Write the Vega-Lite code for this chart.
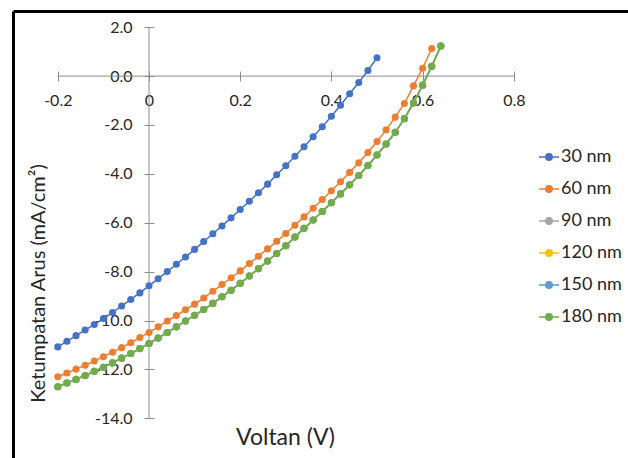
{
 "$schema": "https://vega.github.io/schema/vega-lite/v6.json",
 "width": 615,
 "height": 447,
 "autosize": {"type": "none"},
 "padding": {"left": 13, "top": 11, "right": 0, "bottom": 0},
 "background": "white",
 "config": {"view": {"stroke": null}, "font": "Lato", "axis": {"grid": false}},
 "datasets": {
  "axes": [
   {"x1": -0.2, "x2": 0.8, "y1": 0, "y2": 0},
   {"x1": 0, "x2": 0, "y1": -14, "y2": 2}
  ],
  "curves": [
   {"s":"30 nm","v":-0.2,"j":-11.08},{"s":"30 nm","v":-0.18,"j":-10.85},{"s":"30 nm","v":-0.16,"j":-10.62},{"s":"30 nm","v":-0.14,"j":-10.39},{"s":"30 nm","v":-0.12,"j":-10.16},{"s":"30 nm","v":-0.1,"j":-9.92},{"s":"30 nm","v":-0.08,"j":-9.67},{"s":"30 nm","v":-0.06,"j":-9.41},{"s":"30 nm","v":-0.04,"j":-9.14},{"s":"30 nm","v":-0.02,"j":-8.87},{"s":"30 nm","v":0,"j":-8.58},{"s":"30 nm","v":0.02,"j":-8.29},{"s":"30 nm","v":0.04,"j":-8.0},{"s":"30 nm","v":0.06,"j":-7.7},{"s":"30 nm","v":0.08,"j":-7.4},{"s":"30 nm","v":0.1,"j":-7.09},{"s":"30 nm","v":0.12,"j":-6.77},{"s":"30 nm","v":0.14,"j":-6.45},{"s":"30 nm","v":0.16,"j":-6.13},{"s":"30 nm","v":0.18,"j":-5.8},{"s":"30 nm","v":0.2,"j":-5.46},{"s":"30 nm","v":0.22,"j":-5.12},{"s":"30 nm","v":0.24,"j":-4.77},{"s":"30 nm","v":0.26,"j":-4.42},{"s":"30 nm","v":0.28,"j":-4.04},{"s":"30 nm","v":0.3,"j":-3.67},{"s":"30 nm","v":0.32,"j":-3.28},{"s":"30 nm","v":0.34,"j":-2.89},{"s":"30 nm","v":0.36,"j":-2.48},{"s":"30 nm","v":0.38,"j":-2.07},{"s":"30 nm","v":0.4,"j":-1.64},{"s":"30 nm","v":0.42,"j":-1.19},{"s":"30 nm","v":0.44,"j":-0.72},{"s":"30 nm","v":0.46,"j":-0.26},{"s":"30 nm","v":0.48,"j":0.23},{"s":"30 nm","v":0.5,"j":0.75},
   {"s":"60 nm","v":-0.2,"j":-12.3},{"s":"60 nm","v":-0.18,"j":-12.15},{"s":"60 nm","v":-0.16,"j":-11.99},{"s":"60 nm","v":-0.14,"j":-11.83},{"s":"60 nm","v":-0.12,"j":-11.66},{"s":"60 nm","v":-0.1,"j":-11.48},{"s":"60 nm","v":-0.08,"j":-11.3},{"s":"60 nm","v":-0.06,"j":-11.11},{"s":"60 nm","v":-0.04,"j":-10.91},{"s":"60 nm","v":-0.02,"j":-10.7},{"s":"60 nm","v":0,"j":-10.49},{"s":"60 nm","v":0.02,"j":-10.26},{"s":"60 nm","v":0.04,"j":-10.02},{"s":"60 nm","v":0.06,"j":-9.8},{"s":"60 nm","v":0.08,"j":-9.56},{"s":"60 nm","v":0.1,"j":-9.33},{"s":"60 nm","v":0.12,"j":-9.08},{"s":"60 nm","v":0.14,"j":-8.8},{"s":"60 nm","v":0.16,"j":-8.53},{"s":"60 nm","v":0.18,"j":-8.25},{"s":"60 nm","v":0.2,"j":-7.97},{"s":"60 nm","v":0.22,"j":-7.67},{"s":"60 nm","v":0.24,"j":-7.37},{"s":"60 nm","v":0.26,"j":-7.07},{"s":"60 nm","v":0.28,"j":-6.76},{"s":"60 nm","v":0.3,"j":-6.44},{"s":"60 nm","v":0.32,"j":-6.1},{"s":"60 nm","v":0.34,"j":-5.76},{"s":"60 nm","v":0.36,"j":-5.41},{"s":"60 nm","v":0.38,"j":-5.05},{"s":"60 nm","v":0.4,"j":-4.69},{"s":"60 nm","v":0.42,"j":-4.32},{"s":"60 nm","v":0.44,"j":-3.94},{"s":"60 nm","v":0.46,"j":-3.55},{"s":"60 nm","v":0.48,"j":-3.13},{"s":"60 nm","v":0.5,"j":-2.68},{"s":"60 nm","v":0.52,"j":-2.2},{"s":"60 nm","v":0.54,"j":-1.68},{"s":"60 nm","v":0.56,"j":-1.12},{"s":"60 nm","v":0.58,"j":-0.4},{"s":"60 nm","v":0.6,"j":0.32},{"s":"60 nm","v":0.62,"j":1.13},
   {"s":"90 nm","v":-0.2,"j":-12.71},{"s":"90 nm","v":-0.18,"j":-12.56},{"s":"90 nm","v":-0.16,"j":-12.41},{"s":"90 nm","v":-0.14,"j":-12.25},{"s":"90 nm","v":-0.12,"j":-12.08},{"s":"90 nm","v":-0.1,"j":-11.91},{"s":"90 nm","v":-0.08,"j":-11.73},{"s":"90 nm","v":-0.06,"j":-11.54},{"s":"90 nm","v":-0.04,"j":-11.35},{"s":"90 nm","v":-0.02,"j":-11.15},{"s":"90 nm","v":0,"j":-10.94},{"s":"90 nm","v":0.02,"j":-10.72},{"s":"90 nm","v":0.04,"j":-10.49},{"s":"90 nm","v":0.06,"j":-10.26},{"s":"90 nm","v":0.08,"j":-10.02},{"s":"90 nm","v":0.1,"j":-9.79},{"s":"90 nm","v":0.12,"j":-9.55},{"s":"90 nm","v":0.14,"j":-9.3},{"s":"90 nm","v":0.16,"j":-9.03},{"s":"90 nm","v":0.18,"j":-8.76},{"s":"90 nm","v":0.2,"j":-8.48},{"s":"90 nm","v":0.22,"j":-8.18},{"s":"90 nm","v":0.24,"j":-7.88},{"s":"90 nm","v":0.26,"j":-7.57},{"s":"90 nm","v":0.28,"j":-7.26},{"s":"90 nm","v":0.3,"j":-6.94},{"s":"90 nm","v":0.32,"j":-6.58},{"s":"90 nm","v":0.34,"j":-6.23},{"s":"90 nm","v":0.36,"j":-5.89},{"s":"90 nm","v":0.38,"j":-5.54},{"s":"90 nm","v":0.4,"j":-5.18},{"s":"90 nm","v":0.42,"j":-4.82},{"s":"90 nm","v":0.44,"j":-4.45},{"s":"90 nm","v":0.46,"j":-4.07},{"s":"90 nm","v":0.48,"j":-3.66},{"s":"90 nm","v":0.5,"j":-3.23},{"s":"90 nm","v":0.52,"j":-2.78},{"s":"90 nm","v":0.54,"j":-2.3},{"s":"90 nm","v":0.56,"j":-1.74},{"s":"90 nm","v":0.58,"j":-1.1},{"s":"90 nm","v":0.6,"j":-0.37},{"s":"90 nm","v":0.62,"j":0.4},{"s":"90 nm","v":0.64,"j":1.23},
   {"s":"120 nm","v":-0.2,"j":-12.71},{"s":"120 nm","v":-0.18,"j":-12.56},{"s":"120 nm","v":-0.16,"j":-12.41},{"s":"120 nm","v":-0.14,"j":-12.25},{"s":"120 nm","v":-0.12,"j":-12.08},{"s":"120 nm","v":-0.1,"j":-11.91},{"s":"120 nm","v":-0.08,"j":-11.73},{"s":"120 nm","v":-0.06,"j":-11.54},{"s":"120 nm","v":-0.04,"j":-11.35},{"s":"120 nm","v":-0.02,"j":-11.15},{"s":"120 nm","v":0,"j":-10.94},{"s":"120 nm","v":0.02,"j":-10.72},{"s":"120 nm","v":0.04,"j":-10.49},{"s":"120 nm","v":0.06,"j":-10.26},{"s":"120 nm","v":0.08,"j":-10.02},{"s":"120 nm","v":0.1,"j":-9.79},{"s":"120 nm","v":0.12,"j":-9.55},{"s":"120 nm","v":0.14,"j":-9.3},{"s":"120 nm","v":0.16,"j":-9.03},{"s":"120 nm","v":0.18,"j":-8.76},{"s":"120 nm","v":0.2,"j":-8.48},{"s":"120 nm","v":0.22,"j":-8.18},{"s":"120 nm","v":0.24,"j":-7.88},{"s":"120 nm","v":0.26,"j":-7.57},{"s":"120 nm","v":0.28,"j":-7.26},{"s":"120 nm","v":0.3,"j":-6.94},{"s":"120 nm","v":0.32,"j":-6.58},{"s":"120 nm","v":0.34,"j":-6.23},{"s":"120 nm","v":0.36,"j":-5.89},{"s":"120 nm","v":0.38,"j":-5.54},{"s":"120 nm","v":0.4,"j":-5.18},{"s":"120 nm","v":0.42,"j":-4.82},{"s":"120 nm","v":0.44,"j":-4.45},{"s":"120 nm","v":0.46,"j":-4.07},{"s":"120 nm","v":0.48,"j":-3.66},{"s":"120 nm","v":0.5,"j":-3.23},{"s":"120 nm","v":0.52,"j":-2.78},{"s":"120 nm","v":0.54,"j":-2.3},{"s":"120 nm","v":0.56,"j":-1.74},{"s":"120 nm","v":0.58,"j":-1.1},{"s":"120 nm","v":0.6,"j":-0.37},{"s":"120 nm","v":0.62,"j":0.4},{"s":"120 nm","v":0.64,"j":1.23},
   {"s":"150 nm","v":-0.2,"j":-12.71},{"s":"150 nm","v":-0.18,"j":-12.56},{"s":"150 nm","v":-0.16,"j":-12.41},{"s":"150 nm","v":-0.14,"j":-12.25},{"s":"150 nm","v":-0.12,"j":-12.08},{"s":"150 nm","v":-0.1,"j":-11.91},{"s":"150 nm","v":-0.08,"j":-11.73},{"s":"150 nm","v":-0.06,"j":-11.54},{"s":"150 nm","v":-0.04,"j":-11.35},{"s":"150 nm","v":-0.02,"j":-11.15},{"s":"150 nm","v":0,"j":-10.94},{"s":"150 nm","v":0.02,"j":-10.72},{"s":"150 nm","v":0.04,"j":-10.49},{"s":"150 nm","v":0.06,"j":-10.26},{"s":"150 nm","v":0.08,"j":-10.02},{"s":"150 nm","v":0.1,"j":-9.79},{"s":"150 nm","v":0.12,"j":-9.55},{"s":"150 nm","v":0.14,"j":-9.3},{"s":"150 nm","v":0.16,"j":-9.03},{"s":"150 nm","v":0.18,"j":-8.76},{"s":"150 nm","v":0.2,"j":-8.48},{"s":"150 nm","v":0.22,"j":-8.18},{"s":"150 nm","v":0.24,"j":-7.88},{"s":"150 nm","v":0.26,"j":-7.57},{"s":"150 nm","v":0.28,"j":-7.26},{"s":"150 nm","v":0.3,"j":-6.94},{"s":"150 nm","v":0.32,"j":-6.58},{"s":"150 nm","v":0.34,"j":-6.23},{"s":"150 nm","v":0.36,"j":-5.89},{"s":"150 nm","v":0.38,"j":-5.54},{"s":"150 nm","v":0.4,"j":-5.18},{"s":"150 nm","v":0.42,"j":-4.82},{"s":"150 nm","v":0.44,"j":-4.45},{"s":"150 nm","v":0.46,"j":-4.07},{"s":"150 nm","v":0.48,"j":-3.66},{"s":"150 nm","v":0.5,"j":-3.23},{"s":"150 nm","v":0.52,"j":-2.78},{"s":"150 nm","v":0.54,"j":-2.3},{"s":"150 nm","v":0.56,"j":-1.74},{"s":"150 nm","v":0.58,"j":-1.1},{"s":"150 nm","v":0.6,"j":-0.37},{"s":"150 nm","v":0.62,"j":0.4},{"s":"150 nm","v":0.64,"j":1.23},
   {"s":"180 nm","v":-0.2,"j":-12.71},{"s":"180 nm","v":-0.18,"j":-12.56},{"s":"180 nm","v":-0.16,"j":-12.41},{"s":"180 nm","v":-0.14,"j":-12.25},{"s":"180 nm","v":-0.12,"j":-12.08},{"s":"180 nm","v":-0.1,"j":-11.91},{"s":"180 nm","v":-0.08,"j":-11.73},{"s":"180 nm","v":-0.06,"j":-11.54},{"s":"180 nm","v":-0.04,"j":-11.35},{"s":"180 nm","v":-0.02,"j":-11.15},{"s":"180 nm","v":0,"j":-10.94},{"s":"180 nm","v":0.02,"j":-10.72},{"s":"180 nm","v":0.04,"j":-10.49},{"s":"180 nm","v":0.06,"j":-10.26},{"s":"180 nm","v":0.08,"j":-10.02},{"s":"180 nm","v":0.1,"j":-9.79},{"s":"180 nm","v":0.12,"j":-9.55},{"s":"180 nm","v":0.14,"j":-9.3},{"s":"180 nm","v":0.16,"j":-9.03},{"s":"180 nm","v":0.18,"j":-8.76},{"s":"180 nm","v":0.2,"j":-8.48},{"s":"180 nm","v":0.22,"j":-8.18},{"s":"180 nm","v":0.24,"j":-7.88},{"s":"180 nm","v":0.26,"j":-7.57},{"s":"180 nm","v":0.28,"j":-7.26},{"s":"180 nm","v":0.3,"j":-6.94},{"s":"180 nm","v":0.32,"j":-6.58},{"s":"180 nm","v":0.34,"j":-6.23},{"s":"180 nm","v":0.36,"j":-5.89},{"s":"180 nm","v":0.38,"j":-5.54},{"s":"180 nm","v":0.4,"j":-5.18},{"s":"180 nm","v":0.42,"j":-4.82},{"s":"180 nm","v":0.44,"j":-4.45},{"s":"180 nm","v":0.46,"j":-4.07},{"s":"180 nm","v":0.48,"j":-3.66},{"s":"180 nm","v":0.5,"j":-3.23},{"s":"180 nm","v":0.52,"j":-2.78},{"s":"180 nm","v":0.54,"j":-2.3},{"s":"180 nm","v":0.56,"j":-1.74},{"s":"180 nm","v":0.58,"j":-1.1},{"s":"180 nm","v":0.6,"j":-0.37},{"s":"180 nm","v":0.62,"j":0.4},{"s":"180 nm","v":0.64,"j":1.23}
  ]
 },
 "layer": [
  {
   "data": {"name": "axes"},
   "mark": {"type": "rule", "color": "#8c8c8c", "strokeWidth": 1},
   "encoding": {
    "x": {"field": "x1", "type": "quantitative", "scale": {"domain": [-0.29825, 1.05044], "nice": false, "zero": false},
          "axis": {"orient": "top", "offset": 0, "domainColor": "black", "domainWidth": 3, "ticks": false, "labels": false, "title": null, "grid": false}},
    "x2": {"field": "x2"},
    "y": {"field": "y1", "type": "quantitative", "scale": {"domain": [-15.626, 2.6637], "nice": false, "zero": false},
          "axis": {"orient": "left", "offset": 0, "domainColor": "black", "domainWidth": 3, "ticks": false, "labels": false, "title": null, "grid": false}},
    "y2": {"field": "y2"}
   }
  },
  {
   "data": {"name": "curves"},
   "mark": {"type": "line", "strokeWidth": 1.5, "point": {"filled": true, "size": 50, "opacity": 1}},
   "encoding": {
    "x": {"field": "v", "type": "quantitative", "scale": {"domain": [-0.29825, 1.05044], "nice": false, "zero": false},
          "axis": {"orient": "bottom", "offset": -387, "values": [-0.2, 0, 0.2, 0.4, 0.6, 0.8], "domain": false, "grid": false,
                   "tickSize": 10, "tickColor": "#8c8c8c", "tickWidth": 1,
                   "labelFontSize": 16, "labelColor": "#262626", "labelPadding": 11, "labelFlush": false, "labelOverlap": false,
                   "labelExpr": "datum.value == 0 ? '0' : replace(format(datum.value, '.1f'), '−', '-')",
                   "title": "Voltan (V)", "titleFontSize": 23, "titleFontWeight": "normal", "titleColor": "#262626",
                   "titleX": 272, "titleY": 366, "titleAlign": "center", "titleBaseline": "middle"}},
    "y": {"field": "j", "type": "quantitative", "scale": {"domain": [-15.626, 2.6637], "nice": false, "zero": false},
          "axis": {"orient": "left", "offset": -141, "values": [-14, -12, -10, -8, -6, -4, -2, 0, 2], "domain": false, "grid": false,
                   "tickSize": 10, "tickColor": "#8c8c8c", "tickWidth": 1,
                   "labelFontSize": 16, "labelColor": "#262626", "labelPadding": 12, "labelFlush": false, "labelOverlap": false,
                   "labelExpr": "replace(format(datum.value, '.1f'), '−', '-')",
                   "title": "Ketumpatan Arus (mA/cm²)", "titleFontSize": 20, "titleFontWeight": "normal", "titleColor": "#262626",
                   "titleX": -115.5, "titleY": 272, "titleAngle": -90, "titleAlign": "center", "titleBaseline": "middle"}},
    "color": {"field": "s", "type": "nominal",
              "scale": {"domain": ["30 nm", "60 nm", "90 nm", "120 nm", "150 nm", "180 nm"],
                        "range": ["#4472C4", "#ED7D31", "#A5A5A5", "#FFC000", "#5B9BD5", "#70AD47"]},
              "legend": {"orient": "none", "legendX": 525, "legendY": 135, "title": null,
                         "symbolType": "M-1,0L1,0M-0.32,0A0.32,0.32,0,1,0,0.32,0A0.32,0.32,0,1,0,-0.32,0Z",
                         "symbolSize": 400, "symbolStrokeWidth": 1.5,
                         "labelFontSize": 18, "labelColor": "#262626", "labelOffset": 1, "rowPadding": 12, "padding": 0,
                         "encode": {"symbols": {"update": {"fill": {"scale": "color", "field": "value"}, "stroke": {"scale": "color", "field": "value"}, "opacity": {"value": 1}}}}}}
   }
  }
 ],
 "resolve": {"axis": {"x": "independent", "y": "independent"}}
}
